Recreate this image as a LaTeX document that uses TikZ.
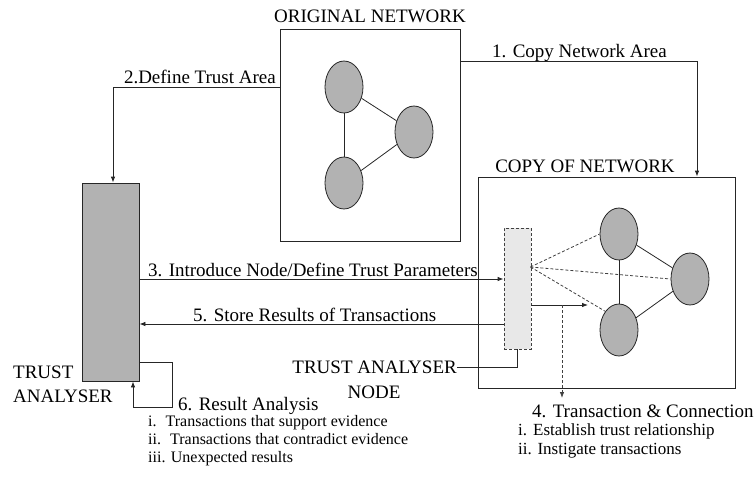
\documentclass[tikz,border=0pt]{standalone}
\usepackage{fontspec}
\setmainfont{Liberation Serif}
\usetikzlibrary{arrows.meta,shapes.geometric}
\begin{document}
\begin{tikzpicture}[x=1pt,y=-1pt,
  ln/.style={draw=black!85, line width=0.8pt},
  arr/.style={ln,-{Latex[length=6pt,width=4.5pt]}},
  dsh/.style={draw=black!75, line width=0.8pt, dash pattern=on 3pt off 2pt},
  circ/.style={ellipse, draw=black!85, line width=0.8pt, fill=black!30, minimum width=38pt, minimum height=52pt, inner sep=0},
  frame/.style={rectangle, draw=black!85, line width=0.8pt, inner sep=0},
  big/.style={font=\fontsize{19}{22}\selectfont, inner sep=0, anchor=base west},
  lstl/.style={font=\fontsize{16}{18}\selectfont, inner sep=0, anchor=base west},
  lstr/.style={font=\fontsize{17}{19}\selectfont, inner sep=0, anchor=base west}
]
\useasboundingbox (0,0) rectangle (756,477);

% boxes
\node[frame, minimum width=180pt, minimum height=212pt] (orig) at (370,135) {};
\node[frame, minimum width=257pt, minimum height=211pt] (copy) at (606.5,282.5) {};
\node[frame, fill=black!30, minimum width=57pt, minimum height=198pt] (ta) at (110.5,282) {};
\node[frame, dsh, fill=black!9, minimum width=27pt, minimum height=121pt] (tanode) at (517.5,288.5) {};

% original network
\node[circ] (o1) at (344,87) {};
\node[circ] (o2) at (414,132) {};
\node[circ] (o3) at (344,183) {};
\draw[ln] (o1) -- (o2);
\draw[ln] (o1) -- (o3);
\draw[ln] (o3) -- (o2);

% copy network
\node[circ] (c1) at (619,234) {};
\node[circ] (c2) at (690,279) {};
\node[circ] (c3) at (619,330) {};
\draw[ln] (c1) -- (c2);
\draw[ln] (c1) -- (c3);
\draw[ln] (c3) -- (c2);

\coordinate (src) at (530.5,267);
\draw[dsh] (src) -- (c1.west);
\draw[dsh] (src) -- (c2.west);
\draw[dsh] (src) -- (c3.north west);

% titles
\node[big, anchor=base] (tOrig) at (370,22) {ORIGINAL NETWORK};
\node[big, anchor=base] (tCopy) at (585,172) {COPY OF NETWORK};

% 1. copy
\coordinate (k1) at (697,61);
\draw[arr] (orig.east |- k1) -- (k1) -- (k1 |- copy.north);
\node[big] (l1) at (492,57) {1. Copy Network Area};

% 2. define
\coordinate (k2) at (113,87);
\draw[arr] (orig.west |- k2) -- (k2) -- (k2 |- ta.north);
\node[big, anchor=base east] (l2) at (276,83) {2.Define Trust Area};

% 3. introduce
\coordinate (y3) at (0,279);
\draw[arr] (ta.east |- y3) -- (tanode.west |- y3);
\node[big] (l3) at (148,276) {3. Introduce Node/Define Trust Parameters};

% 5. store
\coordinate (y5) at (0,324);
\draw[arr] (tanode.west |- y5) -- (ta.east |- y5);
\node[big] (l5) at (193,321) {5. Store Results of Transactions};

% trust analyser node label
\node[big, anchor=base east] (ltn) at (457,373) {TRUST ANALYSER};
\node[big, anchor=base] (ltn2) at (374,398) {NODE};
\draw[ln] (ltn.east |- 0,367) -- (tanode.south |- 0,367) -- (tanode.south);

% trust analyser label
\node[big] (lta) at (13,378) {TRUST};
\node[big] (lta2) at (13,402) {ANALYSER};

% 6. result analysis loop
\coordinate (k6a) at (172,362);
\coordinate (k6b) at (172,407);
\coordinate (k6c) at (133,407);
\draw[arr] (ta.east |- k6a) -- (k6a) -- (k6b) -- (k6c) -- (k6c |- ta.south);
\node[big] (l6) at (178,410) {6. Result Analysis};
\node[lstl] (l6i) at (148,426) {i.\hspace{9pt}Transactions that support evidence};
\node[lstl] (l6ii) at (148,444) {ii.\hspace{9pt}Transactions that contradict evidence};
\node[lstl] (l6iii) at (148,462) {iii. Unexpected results};

% 4. transaction & connection
\coordinate (k4) at (588,305);
\draw[arr] (tanode.east |- k4) -- (k4);
\coordinate (d4) at (562,305);
\coordinate (d4e) at (562,398);
\draw[dsh, -{Latex[length=6pt,width=4.5pt]}] (d4) -- (d4e);
\node[big] (l4) at (532,417) {4. Transaction \& Connection};
\node[lstr] (l4i) at (518,435) {i.\hspace{6pt}Establish trust relationship};
\node[lstr] (l4ii) at (518,454) {ii. Instigate transactions};
\end{tikzpicture}
\end{document}
